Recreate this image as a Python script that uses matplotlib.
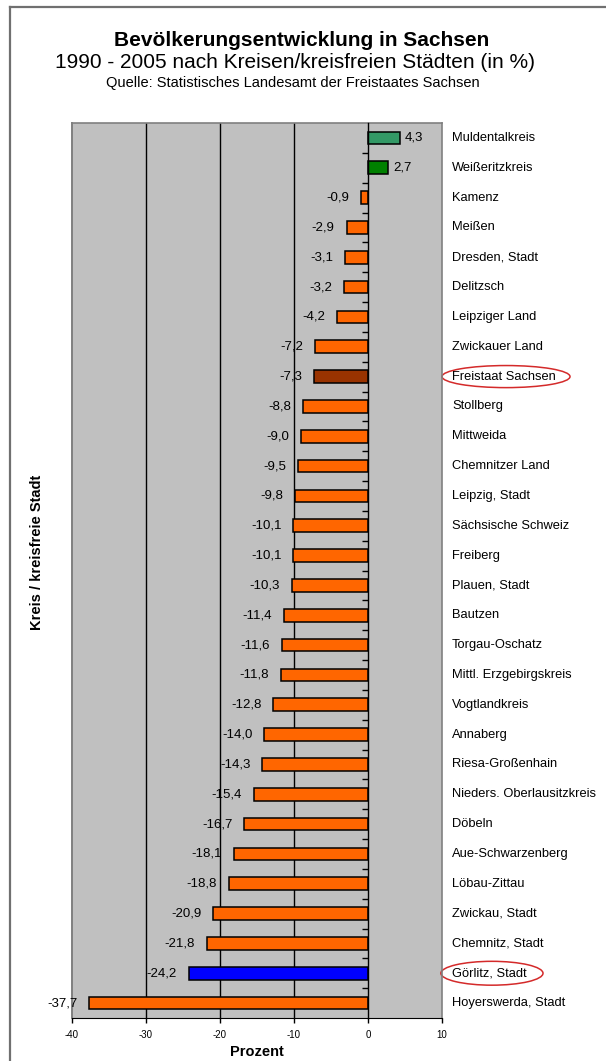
#!/usr/bin/env python3
"""Bevoelkerungsentwicklung in Sachsen 1990-2005, horizontal bar chart."""

import matplotlib as mpl

mpl.use("Agg")

import matplotlib.pyplot as plt
import numpy as np
from matplotlib.lines import Line2D
from matplotlib.patches import Ellipse

plt.rcParams["font.family"] = ["Liberation Sans", "DejaVu Sans"]

W, H = 606, 1061

kreise = [
    "Muldentalkreis", "Weißeritzkreis", "Kamenz", "Meißen", "Dresden, Stadt",
    "Delitzsch", "Leipziger Land", "Zwickauer Land", "Freistaat Sachsen",
    "Stollberg", "Mittweida", "Chemnitzer Land", "Leipzig, Stadt",
    "Sächsische Schweiz", "Freiberg", "Plauen, Stadt", "Bautzen",
    "Torgau-Oschatz", "Mittl. Erzgebirgskreis", "Vogtlandkreis", "Annaberg",
    "Riesa-Großenhain", "Nieders. Oberlausitzkreis", "Döbeln",
    "Aue-Schwarzenberg", "Löbau-Zittau", "Zwickau, Stadt", "Chemnitz, Stadt",
    "Görlitz, Stadt", "Hoyerswerda, Stadt",
]
prozent = [
    4.3, 2.7, -0.9, -2.9, -3.1, -3.2, -4.2, -7.2, -7.3, -8.8, -9.0, -9.5,
    -9.8, -10.1, -10.1, -10.3, -11.4, -11.6, -11.8, -12.8, -14.0, -14.3,
    -15.4, -16.7, -18.1, -18.8, -20.9, -21.8, -24.2, -37.7,
]
special_colors = {
    "Muldentalkreis": "#339966",
    "Weißeritzkreis": "#008000",
    "Freistaat Sachsen": "#993300",
    "Görlitz, Stadt": "#0000FF",
}
circled = ["Freistaat Sachsen", "Görlitz, Stadt"]
x_ticks = [-40, -30, -20, -10, 0, 10]


def fmt(v: float) -> str:
    return f"{v:.1f}".replace(".", ",")


fig = plt.figure(figsize=(W / 100, H / 100), dpi=100)
fig.patch.set_facecolor("white")

# outer frame (left and top edge visible)
frame_kw = dict(color="#707070", lw=1.6, transform=fig.transFigure)
fig.add_artist(Line2D([10 / W, 10 / W], [0, 1 - 6.5 / H], **frame_kw))
fig.add_artist(Line2D([10 / W, 1], [1 - 6.5 / H, 1 - 6.5 / H], **frame_kw))

ax = fig.add_axes([72 / W, 1 - 1018 / H, 370 / W, 895 / H])
ax.set_facecolor("#C0C0C0")

y = np.arange(len(kreise))
colors = [special_colors.get(k, "#FF6600") for k in kreise]
ax.barh(y, prozent, height=0.42, color=colors, edgecolor="black", linewidth=1.1, zorder=3)

ax.set_xlim(-40, 10)
ax.set_ylim(len(kreise) - 0.5, -0.5)

for gx in [-30, -20, -10]:
    ax.axvline(gx, color="black", lw=1.0, zorder=1)

# value labels
for yi, v in zip(y, prozent):
    if v < 0:
        ax.annotate(fmt(v), (v, yi), xytext=(-8.5, 0), textcoords="offset points",
                    ha="right", va="center", fontsize=9.5, zorder=4)
    else:
        ax.annotate(fmt(v), (v, yi), xytext=(3.5, 0), textcoords="offset points",
                    ha="left", va="center", fontsize=9.5, zorder=4)

# category names on the right
for yi, name in zip(y, kreise):
    ax.text(1.027, yi, name, transform=ax.get_yaxis_transform(),
            ha="left", va="center", fontsize=9.3, clip_on=False)

# red ellipses round highlighted names
ell_size = {"Freistaat Sachsen": (1.173, 0.346, 0.74), "Görlitz, Stadt": (1.135, 0.276, 0.8)}
for name in circled:
    cx, w, h = ell_size[name]
    ax.add_patch(Ellipse((cx, kreise.index(name)), w, h, transform=ax.get_yaxis_transform(),
                         fill=False, edgecolor="#D42A2A", lw=1.1, clip_on=False))

# category axis at x=0 with ticks between categories
ax.spines["left"].set_position(("data", 0))
ax.spines["left"].set_color("black")
ax.spines["left"].set_linewidth(1.0)
ax.spines["left"].set_zorder(4)
ax.set_yticks(np.arange(len(kreise) - 1) + 0.5)
ax.tick_params(axis="y", direction="out", length=4.5, width=1.0, labelleft=False)
for side in ["top", "right"]:
    ax.spines[side].set_color("#808080")
    ax.spines[side].set_linewidth(1.2)
ax.spines["bottom"].set_color("black")
ax.add_artist(Line2D([0, 0], [0, 1], color="#808080", lw=1.4,
                     transform=ax.transAxes, clip_on=False))

ax.set_xticks(x_ticks)
ax.set_xticklabels([str(t) for t in x_ticks])
ax.tick_params(axis="x", direction="out", length=3.5, width=1.0, pad=5, labelsize=7)

fig.text(0.497, 1 - 40 / H, "Bevölkerungsentwicklung in Sachsen", ha="center", va="center",
         fontsize=15, fontweight="bold")
fig.text(0.487, 1 - 63 / H, "1990 - 2005 nach Kreisen/kreisfreien Städten (in %)",
         ha="center", va="center", fontsize=15)
fig.text(0.484, 1 - 83 / H, "Quelle: Statistisches Landesamt der Freistaates Sachsen",
         ha="center", va="center", fontsize=10.5)
fig.text(37 / W, 1 - 552 / H, "Kreis / kreisfreie Stadt", rotation=90, ha="center",
         va="center", fontsize=10.5, fontweight="bold")
fig.text(257 / W, 1 - 1059 / H, "Prozent", ha="center", va="bottom", fontsize=10.5,
         fontweight="bold")

fig.savefig("out.png", dpi=100)
